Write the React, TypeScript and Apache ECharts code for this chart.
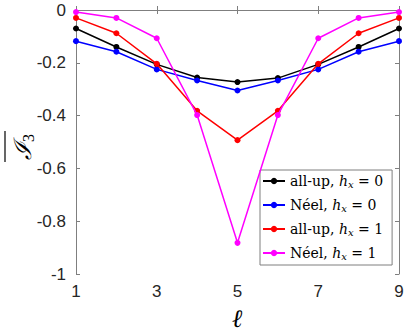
import React, { useEffect, useRef } from "react";
import * as echarts from "echarts";

const sites = [1, 2, 3, 4, 5, 6, 7, 8, 9];
const allUpH0 = [-0.07, -0.14, -0.206, -0.256, -0.273, -0.258, -0.206, -0.14, -0.07];
const neelH0 = [-0.118, -0.158, -0.225, -0.267, -0.305, -0.267, -0.225, -0.158, -0.118];
const allUpH1 = [-0.03, -0.088, -0.204, -0.382, -0.493, -0.382, -0.204, -0.088, -0.03];
const neelH1 = [-0.008, -0.03, -0.107, -0.398, -0.882, -0.398, -0.107, -0.03, -0.008];
const seriesNames = [
  "{t|all-up, }{i|h}{s|x}{t| = 0}",
  "{t|Néel, }{i|h}{s|x}{t| = 0}",
  "{t|all-up, }{i|h}{s|x}{t| = 1}",
  "{t|Néel, }{i|h}{s|x}{t| = 1}",
];
const seriesColors = ["#000000", "#0000ff", "#ff0000", "#ff00ff"];

export default function App() {
  const ref = useRef<HTMLDivElement>(null);
  useEffect(() => {
    const chart = echarts.init(ref.current!, null, { renderer: "svg" });
    const values = [allUpH0, neelH0, allUpH1, neelH1];
    const axisLine = { show: true, lineStyle: { color: "#7f7f7f", width: 1 } };
    const axisTick = { show: true, inside: true, length: 4, lineStyle: { color: "#7f7f7f" } };
    const serif = "DejaVu Serif";
    chart.setOption({
      animation: false,
      backgroundColor: "#ffffff",
      grid: { left: 76, right: 8, top: 10, bottom: 58 },
      xAxis: [
        {
          type: "value", min: 1, max: 9, interval: 2,
          axisLine, axisTick, splitLine: { show: false },
          axisLabel: { color: "#262626", fontSize: 17, fontFamily: "Liberation Sans", margin: 9 },
        },
        {
          type: "value", position: "top", min: 1, max: 9, interval: 2,
          axisLine, axisTick, splitLine: { show: false }, axisLabel: { show: false },
        },
      ],
      yAxis: [
        {
          type: "value", min: -1, max: 0, interval: 0.2,
          axisLine, axisTick, splitLine: { show: false },
          axisLabel: {
            color: "#262626", fontSize: 17, fontFamily: "Liberation Sans", margin: 10,
            formatter: (v: number) => (Math.abs(v) < 1e-9 ? "0" : String(Math.round(v * 10) / 10)),
          },
        },
        {
          type: "value", position: "right", min: -1, max: 0, interval: 0.2,
          axisLine, axisTick, splitLine: { show: false }, axisLabel: { show: false },
        },
      ],
      legend: {
        left: 260, top: 170,
        orient: "vertical",
        backgroundColor: "#ffffff",
        borderColor: "#7f7f7f", borderWidth: 1, borderRadius: 0,
        padding: [4, 9, 4, 2],
        itemWidth: 22, itemHeight: 8, itemGap: 9,
        textStyle: {
          fontFamily: serif, fontSize: 14, fontWeight: "normal", color: "#000",
          rich: {
            t: { fontFamily: serif, fontSize: 14, fontWeight: "normal", color: "#000" },
            i: { fontFamily: serif, fontStyle: "italic", fontSize: 14, color: "#000" },
            s: { fontFamily: serif, fontStyle: "italic", fontSize: 10, color: "#000", padding: [6, 0, 0, 0] },
          },
        },
        data: seriesNames,
      },
      series: values.map((vals, k) => ({
        name: seriesNames[k],
        type: "line",
        data: sites.map((s, i) => [s, vals[i]]),
        color: seriesColors[k],
        lineStyle: { width: 1.5, color: seriesColors[k] },
        itemStyle: { color: seriesColors[k] },
        symbol: "circle",
        symbolSize: 6,
        z: 2 + k,
      })),
      graphic: [
        {
          type: "group",
          x: 21, y: 147,
          rotation: Math.PI / 2,
          children: [
            {
              type: "text",
              x: 0, y: 2,
              style: {
                text: "{a|ℐ}{b|3}",
                textAlign: "center",
                textVerticalAlign: "middle",
                rich: {
                  a: { fontFamily: "DejaVu Serif", fontStyle: "italic", fontSize: 24, fill: "#000" },
                  b: { fontFamily: "Liberation Serif", fontSize: 16, fill: "#000", padding: [10, 0, 0, 0] },
                },
              },
            },
            {
              type: "line",
              shape: { x1: -15, y1: -16, x2: 16, y2: -16 },
              style: { stroke: "#000", lineWidth: 1.2 },
            },
          ],
        },
        {
          type: "text",
          x: 237, y: 318,
          style: {
            text: "ℓ",
            fontFamily: "DejaVu Serif",
            fontStyle: "italic",
            fontSize: 25,
            fill: "#000",
            textAlign: "center",
            textVerticalAlign: "middle",
          },
        },
      ],
    });
    return () => chart.dispose();
  }, []);
  return <div ref={ref} style={{ width: 407, height: 332, position: "absolute", left: 0, top: 0 }} />;
}
